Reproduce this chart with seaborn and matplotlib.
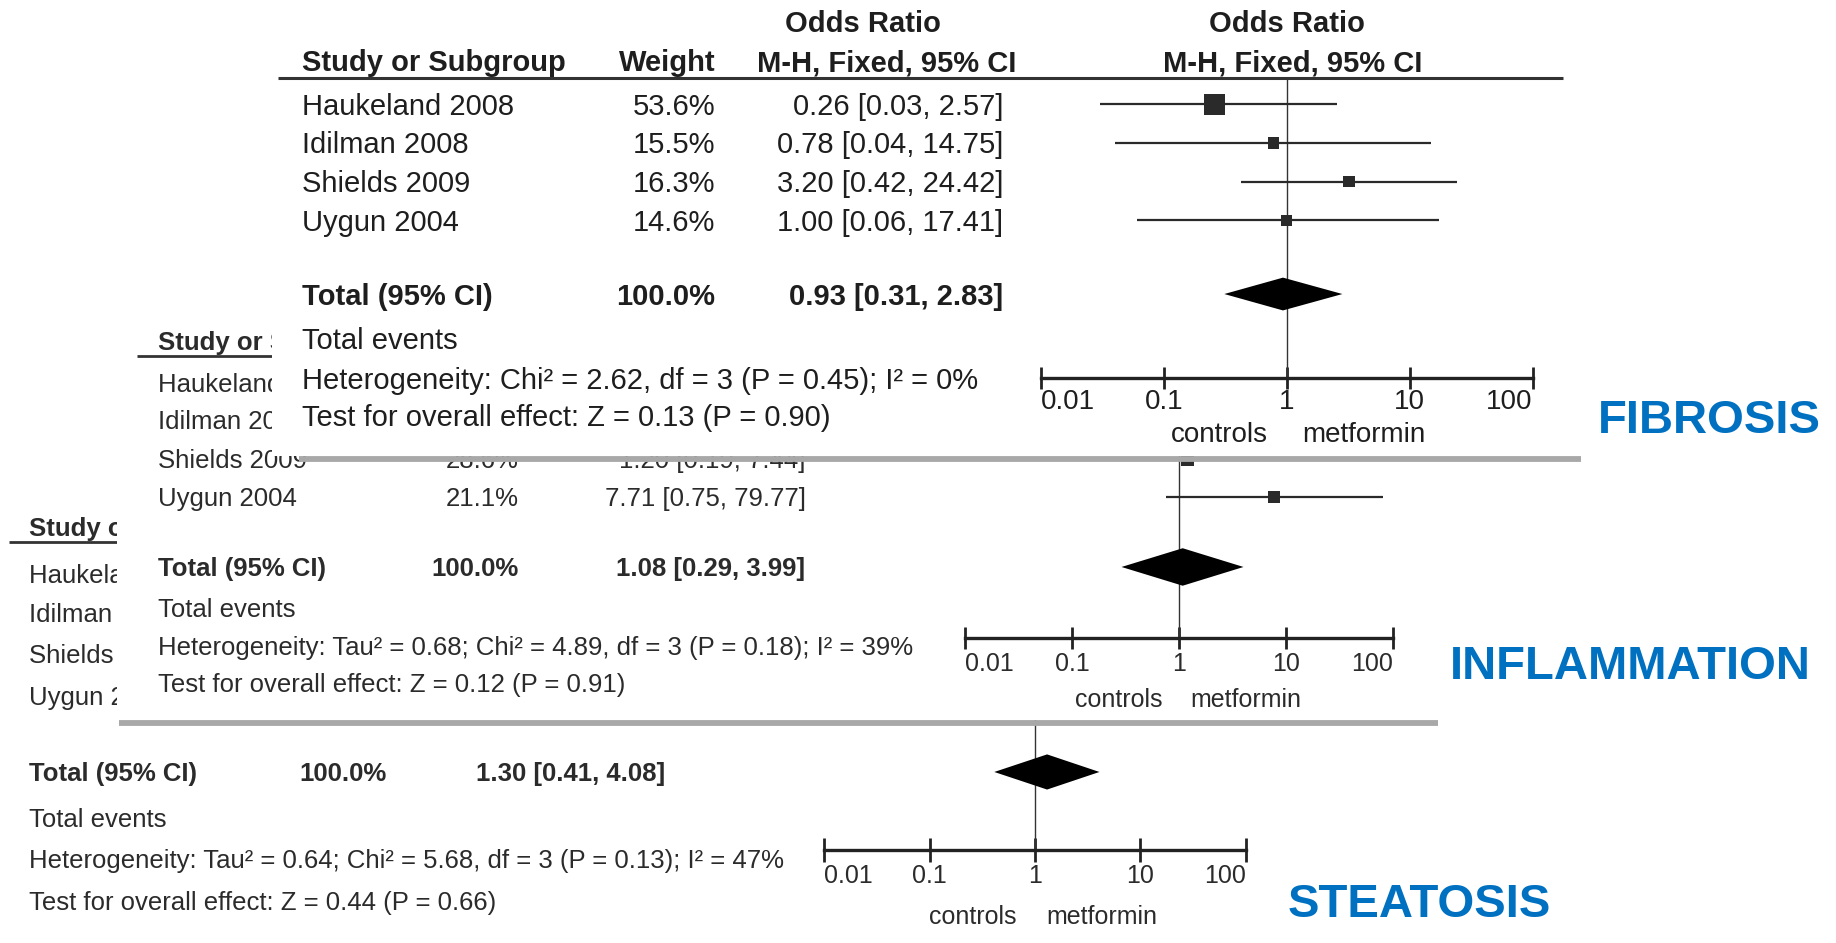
import numpy as np
import pandas as pd
import matplotlib
matplotlib.use("Agg")
import matplotlib.pyplot as plt
import seaborn as sns
from matplotlib.transforms import Affine2D
from matplotlib.lines import Line2D
from matplotlib.patches import Rectangle
from matplotlib.ticker import NullLocator

# ---------------------------------------------------------------- data
studies = ["Haukeland 2008", "Idilman 2008", "Shields 2009", "Uygun 2004"]

fib_weight = [53.6, 15.5, 16.3, 14.6]
fib_or = [0.26, 0.78, 3.20, 1.00]
fib_lo = [0.03, 0.04, 0.42, 0.06]
fib_hi = [2.57, 14.75, 24.42, 17.41]
fib_total = [0.93, 0.31, 2.83]
fib_het = "Heterogeneity: Chi² = 2.62, df = 3 (P = 0.45); I² = 0%"
fib_test = "Test for overall effect: Z = 0.13 (P = 0.90)"

inf_weight = [np.nan, np.nan, 28.6, 21.1]
inf_or = [np.nan, np.nan, 1.20, 7.71]
inf_lo = [np.nan, np.nan, 0.19, 0.75]
inf_hi = [np.nan, np.nan, 7.44, 79.77]
inf_total = [1.08, 0.29, 3.99]
inf_het = "Heterogeneity: Tau² = 0.68; Chi² = 4.89, df = 3 (P = 0.18); I² = 39%"
inf_test = "Test for overall effect: Z = 0.12 (P = 0.91)"

ste_weight = [np.nan, np.nan, np.nan, np.nan]
ste_or = [np.nan, np.nan, np.nan, np.nan]
ste_lo = [np.nan, np.nan, np.nan, np.nan]
ste_hi = [np.nan, np.nan, np.nan, np.nan]
ste_total = [1.30, 0.41, 4.08]
ste_het = "Heterogeneity: Tau² = 0.64; Chi² = 5.68, df = 3 (P = 0.13); I² = 47%"
ste_test = "Test for overall effect: Z = 0.44 (P = 0.66)"

tick_values = [0.01, 0.1, 1, 10, 100]
tick_labels = ["0.01", "0.1", "1", "10", "100"]
side_labels = ["controls", "metformin"]
outcomes = ["FIBROSIS", "INFLAMMATION", "STEATOSIS"]

# ---------------------------------------------------------------- style
sns.set_theme(style="white")
plt.rcParams["font.family"] = ["Liberation Sans", "DejaVu Sans"]

BLUE = "#0070c0"
GREY = "#a8a8a8"

W, H = 1568, 805                      # layout grid (top-left origin)
fig = plt.figure(figsize=(18.36, 9.43), dpi=100)
fig.patch.set_facecolor("white")
D = Affine2D().scale(1 / W, -1 / H).translate(0, 1) + fig.transFigure
PT = (1836 / W) * 0.72                # points per layout unit


def frac_rect(x0, y0, x1, y1):
    return [x0 / W, 1 - y1 / H, (x1 - x0) / W, (y1 - y0) / H]


def make_layer(z):
    ax = fig.add_axes([0, 0, 1, 1], zorder=z)
    ax.set_facecolor("none")
    ax.set_xticks([])
    ax.set_yticks([])
    for s in ax.spines.values():
        s.set_visible(False)
    return ax


def txt(ax, x, yc, s, fs, ha="left", bold=False, color="#222222"):
    base = yc + 0.36 * fs / PT
    ax.text(x, base, s, transform=D, fontsize=fs, ha=ha, va="baseline",
            fontweight="bold" if bold else "normal", color=color, clip_on=False)


def hline(ax, x0, x1, y, lw, color):
    ax.add_line(Line2D([x0, x1], [y, y], transform=D, lw=lw, color=color,
                       solid_capstyle="butt", clip_on=False))


def white_box(ax, x0, y0, x1, y1):
    ax.add_patch(Rectangle((x0, y0), x1 - x0, y1 - y0, transform=D,
                           facecolor="white", edgecolor="none", clip_on=False))


def fmt_ci(o, lo, hi):
    return f"{o:.2f} [{lo:.2f}, {hi:.2f}]"


def draw_panel(z, L, weight, orr, lo, hi, total, het, test, label):
    ink = L["ink"]
    lay = make_layer(z)
    if L.get("box"):
        white_box(lay, *L["box"])
    fs = L["fs"]

    # column headers
    for s, x, y, ha in L.get("headers", []):
        txt(lay, x, y, s, fs, ha=ha, bold=True, color=ink)
    hx0, hx1, hy = L["head_line"]
    hline(lay, hx0, hx1, hy, L["head_lw"], "#333333")

    # study rows
    for i, name in enumerate(studies):
        y = L["rows"][i]
        txt(lay, L["left"], y, name, fs, color=ink)
        if not np.isnan(weight[i]):
            txt(lay, L["wcol"], y, f"{weight[i]:.1f}%", fs, ha="right", color=ink)
            txt(lay, L["cicol"], y, fmt_ci(orr[i], lo[i], hi[i]), fs, ha="right", color=ink)

    ty = L["total"]
    txt(lay, L["left"], ty, "Total (95% CI)", fs, bold=True, color=ink)
    txt(lay, L["wcol"], ty, "100.0%", fs, ha="right", bold=True, color=ink)
    txt(lay, L["cicol"], ty, fmt_ci(*total), fs, ha="right", bold=True, color=ink)
    txt(lay, L["left"], L["events"], "Total events", fs, color=ink)
    txt(lay, L["left"], L["het"], het, fs, color=ink)
    txt(lay, L["left"], L["test"], test, fs, color=ink)

    if L.get("sep"):
        sx0, sx1, sy = L["sep"]
        hline(lay, sx0, sx1, sy, 4.2, GREY)

    lx, ly = L["label"]
    txt(lay, lx, ly, label, 34, bold=True, color=BLUE)

    # forest plot on a log odds-ratio scale
    fx0, fx1, ftop, faxis = L["forest"]
    fax = fig.add_axes(frac_rect(fx0, ftop, fx1, faxis), zorder=z + 0.5)
    fax.set_facecolor("none")
    fax.set_xscale("log")
    fax.set_xlim(tick_values[0], tick_values[-1])
    fax.set_ylim(faxis, ftop)
    fax.axvline(1, color="#333333", lw=1.0, zorder=1)

    df = pd.DataFrame({"weight": weight, "or": orr, "lo": lo, "hi": hi,
                       "row": L["rows"]}).dropna()
    if len(df):
        fax.hlines(df["row"], df["lo"], df["hi"], color="#2a2a2a", lw=1.6, zorder=2)
        side = L["sq"] * np.sqrt(df["weight"].to_numpy()) * PT
        sns.scatterplot(data=df, x="or", y="row", marker="s", s=side ** 2,
                        color="#2a2a2a", linewidth=0, legend=False, ax=fax, zorder=3)
    t_or, t_lo, t_hi = total
    h = L["dia"]
    fax.fill([t_lo, t_or, t_hi, t_or], [ty, ty - h, ty, ty + h],
             color="black", lw=0, zorder=3)

    fax.set_xlabel("")
    fax.set_ylabel("")
    fax.set_yticks([])
    for k in ("top", "left", "right"):
        fax.spines[k].set_visible(False)
    fax.spines["bottom"].set_color("#222222")
    fax.spines["bottom"].set_linewidth(2.4)
    fax.set_xticks(tick_values)
    fax.set_xticklabels(tick_labels)
    fax.xaxis.set_minor_locator(NullLocator())
    fax.tick_params(axis="x", which="major", direction="inout",
                    length=L["tick_len"], width=2.0, pad=L["tick_pad"],
                    labelsize=L["tick_fs"], colors="#222222",
                    bottom=True, labelbottom=True)
    labs = fax.get_xticklabels()
    labs[0].set_horizontalalignment("left")
    labs[-1].set_horizontalalignment("right")
    for t in labs:
        t.set_color(ink)

    x_one = fx0 + (fx1 - fx0) * 0.5
    cx, mx, sy = L["sides"]
    txt(lay, x_one - cx, sy, side_labels[0], L["tick_fs"], ha="right", color=ink)
    txt(lay, x_one + mx, sy, side_labels[1], L["tick_fs"], ha="left", color=ink)


# ---------------------------------------------------------------- layouts
ste_layout = dict(
    ink="#2b2b2b", fs=18.5, box=None,
    headers=[("Study or Subgroup", 25, 450, "left")],
    head_line=(8, 1080, 463), head_lw=2.0,
    left=25, wcol=330, cicol=568,
    rows=[490, 523, 558, 594], total=659, events=698, het=733, test=769,
    sep=None, label=(1100, 768),
    forest=(704, 1064, 463, 726), tick_len=17, tick_fs=18, tick_pad=1,
    sides=(16, 10, 781), sq=2.18, dia=15,
)

inf_layout = dict(
    ink="#2b2b2b", fs=18.5, box=(100, 250, 1230, 615),
    headers=[("Study or Subgroup", 135, 291, "left")],
    head_line=(117, 1215, 304), head_lw=2.0,
    left=135, wcol=443, cicol=688,
    rows=[327, 358, 392, 424], total=484, events=519, het=551, test=583,
    sep=(102, 1228, 617), label=(1238, 565),
    forest=(824, 1190, 304, 545), tick_len=16, tick_fs=18, tick_pad=2,
    sides=(14, 10, 596), sq=2.18, dia=16,
)

fib_layout = dict(
    ink="#1e1e1e", fs=21, box=(232, 0, 1352, 389),
    headers=[("Odds Ratio", 737, 18, "center"),
             ("Odds Ratio", 1099, 18, "center"),
             ("Study or Subgroup", 258, 52, "left"),
             ("Weight", 611, 52, "right"),
             ("M-H, Fixed, 95% CI", 757, 52, "center"),
             ("M-H, Fixed, 95% CI", 1104, 52, "center")],
    head_line=(237, 1335, 67), head_lw=2.2,
    left=258, wcol=611, cicol=857,
    rows=[89, 122, 155, 188], total=251, events=289, het=323, test=355,
    sep=(255, 1350, 392), label=(1365, 355),
    forest=(889, 1309, 67, 323), tick_len=16, tick_fs=20, tick_pad=0,
    sides=(16, 13, 369), sq=2.46, dia=14,
)

draw_panel(1, ste_layout, ste_weight, ste_or, ste_lo, ste_hi, ste_total,
           ste_het, ste_test, outcomes[2])
draw_panel(3, inf_layout, inf_weight, inf_or, inf_lo, inf_hi, inf_total,
           inf_het, inf_test, outcomes[1])
draw_panel(5, fib_layout, fib_weight, fib_or, fib_lo, fib_hi, fib_total,
           fib_het, fib_test, outcomes[0])

fig.savefig("out.png", dpi=100, facecolor="white")
